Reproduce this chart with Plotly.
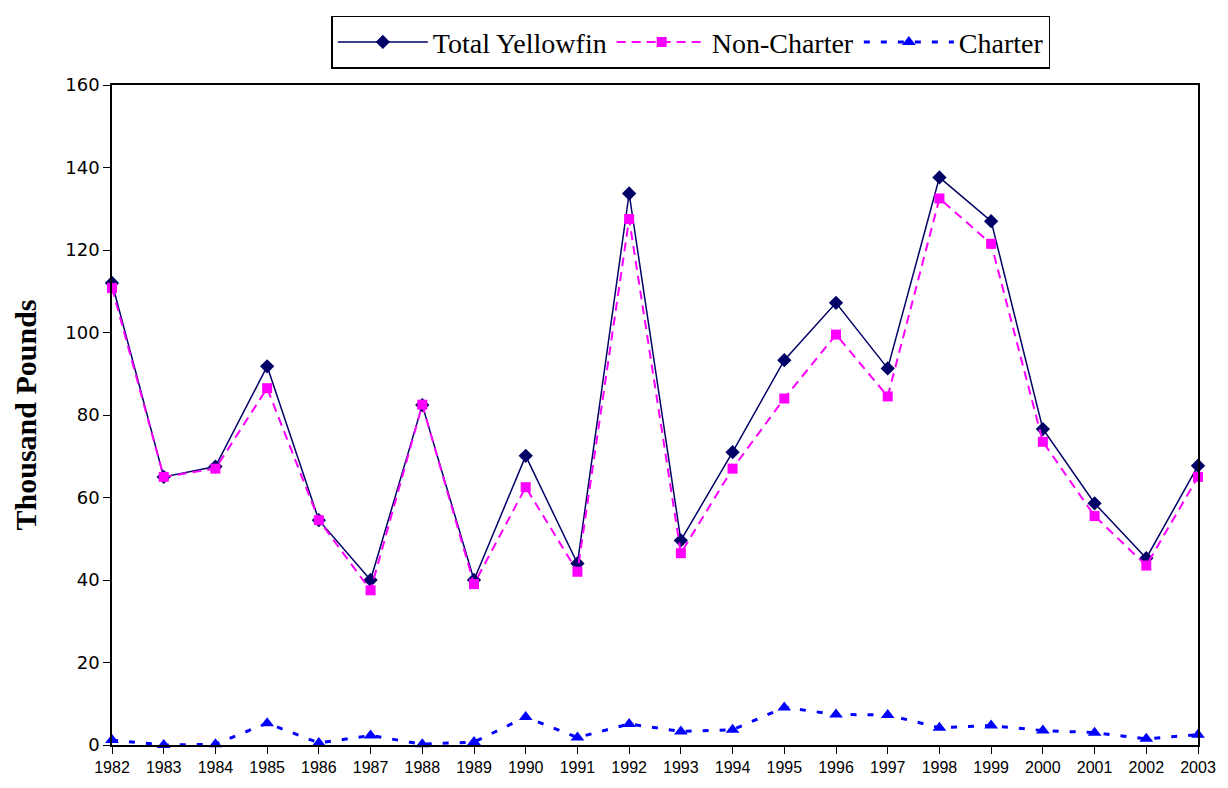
import plotly.graph_objects as go

years = list(range(1982, 2004))

total_yellowfin = [112.0, 65.0, 67.5, 91.8, 54.5, 40.0, 82.4, 40.0, 70.1, 44.0, 133.7,
                   49.6, 71.0, 93.3, 107.2, 91.3, 137.6, 127.0, 76.6, 58.6, 45.3, 67.7]
non_charter = [110.8, 65.0, 67.0, 86.5, 54.5, 37.5, 82.5, 39.0, 62.5, 42.0, 127.5,
               46.5, 67.0, 84.0, 99.5, 84.5, 132.5, 121.5, 73.5, 55.5, 43.5, 65.0]
charter = [1.2, 0.0, 0.2, 5.3, 0.5, 2.3, 0.2, 0.7, 6.8, 1.8, 5.1,
           3.3, 3.7, 9.1, 7.4, 7.3, 4.2, 4.7, 3.5, 3.0, 1.5, 2.5]

series_names = ["Total Yellowfin", "Non-Charter", "Charter"]
y_ticks = [0, 20, 40, 60, 80, 100, 120, 140, 160]

SERIF = "Liberation Serif"

fig = go.Figure()

fig.add_trace(go.Scatter(
    x=years, y=total_yellowfin, name=series_names[0], mode="lines+markers",
    line=dict(color="#000066", width=1.5),
    marker=dict(symbol="diamond", size=11, color="#000066"),
    cliponaxis=False,
))
fig.add_trace(go.Scatter(
    x=years, y=non_charter, name=series_names[1], mode="lines+markers",
    line=dict(color="#FF00FF", width=2, dash="9px,6px"),
    marker=dict(symbol="square", size=10, color="#FF00FF"),
    cliponaxis=False,
))
fig.add_trace(go.Scatter(
    x=years, y=charter, name=series_names[2], mode="lines+markers",
    line=dict(color="#0000FF", width=3, dash="6px,11px"),
    marker=dict(symbol="triangle-up", size=12, color="#0000FF"),
    cliponaxis=False,
))

fig.update_layout(
    width=1228, height=788,
    font=dict(family=SERIF, color="black"),
    paper_bgcolor="white", plot_bgcolor="white",
    margin=dict(l=112, r=20, t=85, b=38),
    showlegend=True,
    legend=dict(
        orientation="h", x=0.533, xanchor="center", y=1.105, yanchor="top",
        bordercolor="black", borderwidth=1.5, bgcolor="white",
        itemwidth=90,
        font=dict(family=SERIF, size=28, color="black"),
        traceorder="normal",
    ),
    xaxis=dict(
        range=[1982, 2003], tickmode="array", tickvals=years,
        ticktext=[str(y) for y in years],
        showline=True, linecolor="black", linewidth=1.5, mirror=True,
        ticks="outside", ticklen=7, tickcolor="black", tickwidth=1,
        showgrid=False, zeroline=False,
        tickfont=dict(family="Liberation Sans", size=16, color="black"),
    ),
    yaxis=dict(
        range=[0, 160], tickmode="array", tickvals=y_ticks,
        showline=True, linecolor="black", linewidth=1.5, mirror=True,
        ticks="outside", ticklen=7, tickcolor="black", tickwidth=1,
        showgrid=False, zeroline=False,
        tickfont=dict(family="DejaVu Sans", size=18, color="black"),
        title=dict(text="<b>Thousand Pounds</b>", standoff=20,
                   font=dict(family=SERIF, size=30, color="black")),
    ),
)

fig.write_html("out.html")
